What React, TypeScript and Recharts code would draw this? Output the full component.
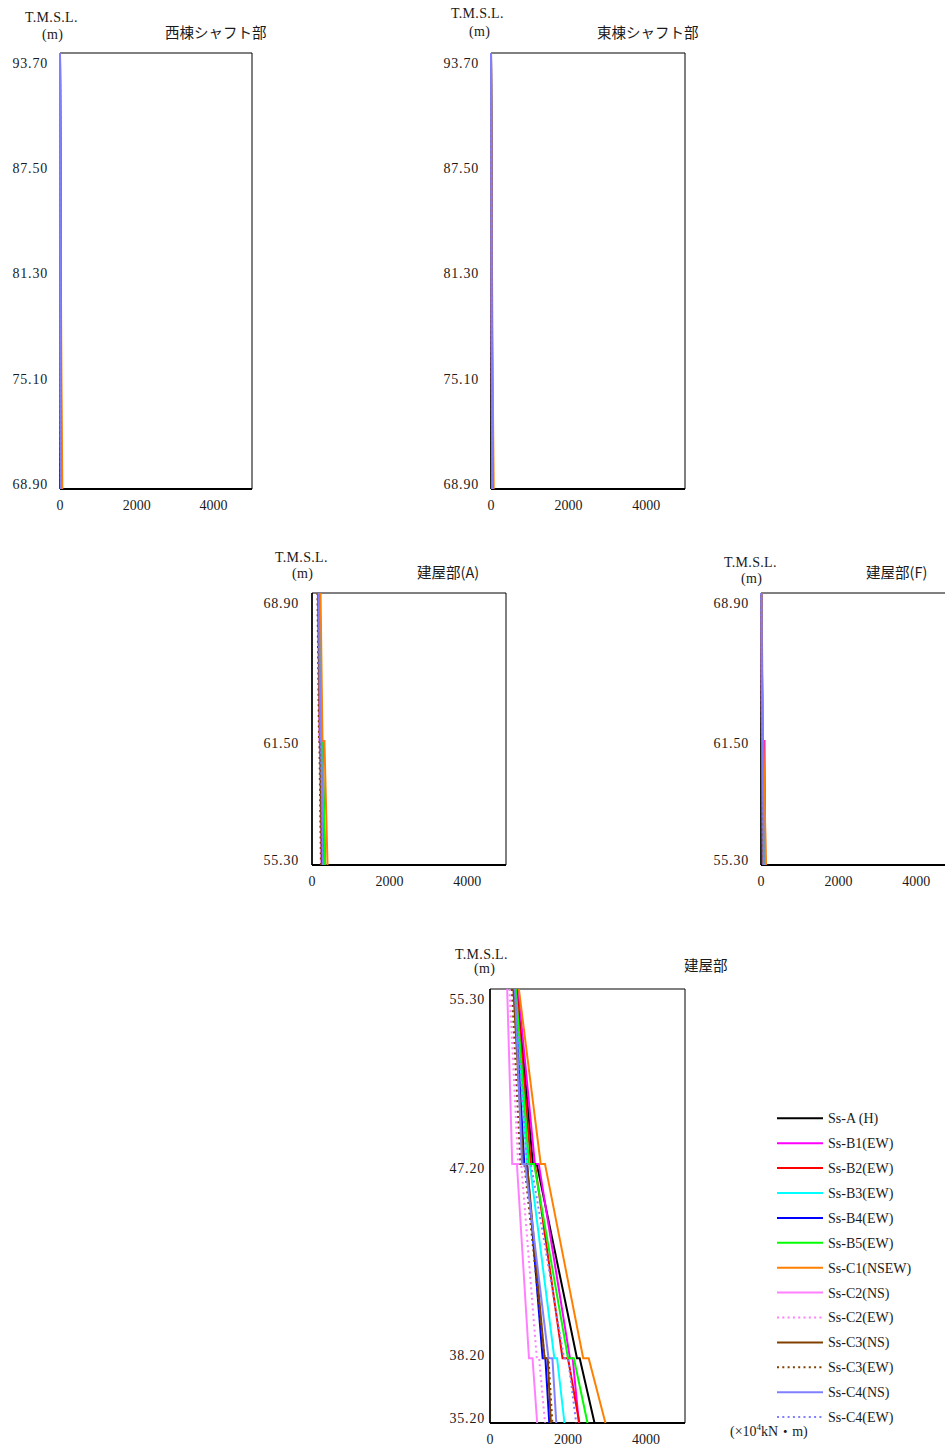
import { ReferenceArea, Scatter, ScatterChart, XAxis, YAxis } from 'recharts';

const SERIF = '"Liberation Serif", "DejaVu Serif", "Noto Sans CJK JP", serif';
const JP = '"Noto Sans CJK JP", "Liberation Serif", sans-serif';
const INK = '#1a1a1a';

const seriesNames = [
  'Ss-A (H)', 'Ss-B1(EW)', 'Ss-B2(EW)', 'Ss-B3(EW)', 'Ss-B4(EW)', 'Ss-B5(EW)', 'Ss-C1(NSEW)',
  'Ss-C2(NS)', 'Ss-C2(EW)', 'Ss-C3(NS)', 'Ss-C3(EW)', 'Ss-C4(NS)', 'Ss-C4(EW)',
];
const seriesColors = [
  '#000000', '#ff00ff', '#ff0000', '#00ffff', '#0000ff', '#00ff00', '#ff8000',
  '#ff80ff', '#ff80ff', '#804000', '#804000', '#8080ff', '#8080ff',
];
const seriesDotted = [false, false, false, false, false, false, false, false, true, false, true, false, true];

// elevations (T.M.S.L., m) of each panel's nodes
const shaftElev = [93.7, 87.5, 81.3, 75.1, 68.9];
const shaftTicks = [93.7, 87.5, 81.3, 75.1, 68.9];
const upperElev = [68.9, 61.5, 61.5, 55.3];
const upperTicks = [68.9, 61.5, 55.3];
const lowerElev = [55.3, 47.2, 47.2, 38.2, 38.2, 35.2];
const lowerTicks = [55.3, 47.2, 38.2, 35.2];
const momentTicks = [0, 2000, 4000];

// moments (x10^4 kN·m), one row per series, in seriesNames order
const westShaft = [
  [0, 8, 16, 25, 35], [0, 7, 14, 22, 30], [0, 7, 14, 22, 31], [0, 6, 13, 20, 28],
  [0, 6, 12, 19, 26], [0, 8, 15, 24, 33], [0, 10, 22, 38, 60], [0, 5, 10, 16, 22],
  [0, 5, 11, 17, 24], [0, 6, 12, 18, 25], [0, 5, 10, 16, 23], [0, 6, 12, 19, 27],
  [0, 6, 12, 18, 26],
];
const eastShaft = [
  [0, 10, 20, 32, 45], [0, 9, 18, 28, 40], [0, 9, 18, 29, 41], [0, 8, 17, 27, 38],
  [0, 8, 16, 25, 36], [0, 10, 19, 30, 43], [0, 12, 26, 44, 70], [0, 7, 14, 21, 30],
  [0, 7, 15, 23, 33], [0, 8, 16, 24, 35], [0, 7, 14, 22, 32], [0, 8, 16, 26, 37],
  [0, 8, 16, 25, 36],
];
const buildingA = [
  [200, 250, 270, 330], [190, 240, 260, 310], [190, 235, 255, 305], [185, 230, 250, 300],
  [180, 225, 245, 290], [195, 245, 270, 340], [220, 270, 320, 400], [150, 190, 200, 240],
  [160, 200, 215, 260], [160, 205, 215, 255], [140, 180, 190, 230], [175, 220, 240, 285],
  [170, 215, 230, 275],
];
const buildingF = [
  [10, 40, 45, 80], [10, 40, 90, 110], [8, 35, 40, 70], [8, 35, 40, 72],
  [6, 30, 35, 60], [10, 38, 45, 78], [15, 50, 60, 130], [5, 25, 30, 50],
  [5, 28, 32, 55], [6, 30, 35, 58], [5, 25, 30, 52], [8, 35, 40, 70],
  [7, 32, 38, 65],
];
const building = [
  [700, 1100, 1200, 2230, 2300, 2680], [720, 1150, 1250, 2050, 2120, 2280],
  [680, 1050, 1150, 1860, 2000, 2290], [650, 950, 1020, 1650, 1720, 1910],
  [620, 880, 950, 1350, 1420, 1520], [660, 1000, 1130, 2000, 2150, 2500],
  [740, 1300, 1410, 2390, 2530, 2960], [440, 570, 690, 1000, 1090, 1210],
  [500, 720, 800, 1200, 1260, 1410], [600, 850, 950, 1400, 1480, 1560],
  [560, 780, 880, 1400, 1500, 1600], [640, 820, 900, 1500, 1600, 1700],
  [630, 950, 1050, 1900, 2000, 2210],
];

const noShape = () => <g />;

interface PanelProps {
  left: number;
  top: number;
  pw: number;
  ph: number;
  elev: number[];
  ticks: number[];
  values: number[][];
  labelGap: number;
}

function Panel({ left, top, pw, ph, elev, ticks, values, labelGap }: PanelProps) {
  const yMin = Math.min(...elev);
  const yMax = Math.max(...elev);
  const elevTick = (props: any) => {
    const { y, payload } = props;
    // labels sit slightly inside the frame, evenly compressed
    const ly = 60 + 10 + ((y - 60) * (ph - 15)) / ph;
    return (
      <text x={60 - labelGap} y={ly} dy="0.35em" textAnchor="end" fill={INK}
        fontSize={14} fontFamily={SERIF} letterSpacing={0.8}>
        {Number(payload.value).toFixed(2)}
      </text>
    );
  };
  return (
    <div style={{ position: 'absolute', left: left - 60, top: top - 60 }}>
      <ScatterChart width={60 + pw + 20} height={60 + ph + 40}
        margin={{ top: 60, right: 20, bottom: 0, left: 0 }}>
        <XAxis type="number" dataKey="x" domain={[0, 5000]} ticks={momentTicks} interval={0}
          height={40} tickLine={false} tickMargin={5}
          axisLine={{ stroke: '#000', strokeWidth: 2 }}
          tick={{ fill: INK, fontSize: 14, fontFamily: SERIF }} />
        <YAxis type="number" dataKey="y" domain={[yMin, yMax]} ticks={ticks} interval={0}
          width={60} tickLine={false} axisLine={{ stroke: '#000', strokeWidth: 1.5 }}
          tick={elevTick} />
        <ReferenceArea x1={0} x2={5000} y1={yMin} y2={yMax} fill="none" stroke="#000" strokeWidth={1} />
        {values.map((row, i) => (
          <Scatter key={seriesNames[i]} name={seriesNames[i]}
            data={row.map((v, j) => ({ x: v, y: elev[j] }))}
            fill={seriesColors[i]} shape={noShape} lineType="joint"
            line={{
              stroke: seriesColors[i],
              strokeWidth: 2,
              strokeDasharray: seriesDotted[i] ? '2 3.3' : undefined,
            }}
            isAnimationActive={false} />
        ))}
      </ScatterChart>
    </div>
  );
}

function Label({ x, y, text, size = 14, font = SERIF }: { x: number; y: number; text: string; size?: number; font?: string }) {
  return (
    <div style={{
      position: 'absolute', left: x, top: y - size * 0.6, fontSize: size, fontFamily: font,
      color: INK, whiteSpace: 'nowrap', lineHeight: 1.2, letterSpacing: font === SERIF ? 0.3 : 0,
    }}>
      {text}
    </div>
  );
}

function Legend() {
  return (
    <svg style={{ position: 'absolute', left: 770, top: 1100 }} width={175} height={330}>
      {seriesNames.map((name, i) => {
        const y = 18.3 + i * 24.9;
        return (
          <g key={name}>
            <line x1={7} x2={53} y1={y} y2={y} stroke={seriesColors[i]} strokeWidth={2}
              strokeDasharray={seriesDotted[i] ? '2 3.3' : undefined} />
            <text x={58} y={y} dy="0.35em" fontSize={14} fontFamily={SERIF} fill={INK}>{name}</text>
          </g>
        );
      })}
    </svg>
  );
}

export default function App() {
  return (
    <div style={{ position: 'fixed', left: 0, top: 0, width: 945, height: 1447, overflow: 'hidden', background: '#fff' }}>
      <Panel left={60} top={53} pw={192} ph={436} elev={shaftElev} ticks={shaftTicks} values={westShaft} labelGap={12} />
      <Panel left={491} top={53} pw={194} ph={436} elev={shaftElev} ticks={shaftTicks} values={eastShaft} labelGap={12} />
      <Panel left={312} top={593} pw={194} ph={272} elev={upperElev} ticks={upperTicks} values={buildingA} labelGap={13} />
      <Panel left={761} top={593} pw={194} ph={272} elev={upperElev} ticks={upperTicks} values={buildingF} labelGap={12} />
      <Panel left={490} top={989} pw={195} ph={434} elev={lowerElev} ticks={lowerTicks} values={building} labelGap={5} />

      <Label x={25} y={18.3} text="T.M.S.L." />
      <Label x={42} y={35.7} text="(m)" />
      <Label x={165} y={31.7} text="西棟シャフト部" size={14.5} font={JP} />

      <Label x={451} y={14.3} text="T.M.S.L." />
      <Label x={469} y={32} text="(m)" />
      <Label x={597} y={31.7} text="東棟シャフト部" size={14.5} font={JP} />

      <Label x={275} y={558.3} text="T.M.S.L." />
      <Label x={292} y={574.3} text="(m)" />
      <Label x={417} y={571.7} text="建屋部(A)" size={14.5} font={JP} />

      <Label x={724} y={563.3} text="T.M.S.L." />
      <Label x={741} y={579.3} text="(m)" />
      <Label x={866} y={571.7} text="建屋部(F)" size={14.5} font={JP} />

      <Label x={455} y={955} text="T.M.S.L." />
      <Label x={474} y={969.3} text="(m)" />
      <Label x={684} y={965} text="建屋部" size={14.5} font={JP} />

      <Legend />
      <div style={{
        position: 'absolute', left: 730, top: 1424, fontSize: 14, fontFamily: SERIF, color: INK,
        whiteSpace: 'nowrap', lineHeight: 1.2,
      }}>
        (×10<sup style={{ fontSize: 9, verticalAlign: 'super', lineHeight: 0 }}>4</sup>kN・m)
      </div>
    </div>
  );
}
